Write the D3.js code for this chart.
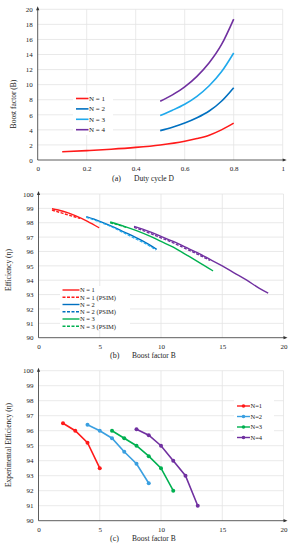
<!DOCTYPE html>
<html><head><meta charset="utf-8">
<script src="https://cdnjs.cloudflare.com/ajax/libs/d3/7.8.5/d3.min.js"></script>
<style>body{margin:0;background:#fff}svg{display:block}text{font-family:"Liberation Serif","Times New Roman",serif;fill:#222}</style>
</head><body>
<script>
// ---------- DATA ----------
// (a) Boost factor vs duty cycle
const aN1D = [0.1, 0.2, 0.3, 0.4, 0.5, 0.6, 0.65, 0.7, 0.75, 0.8];
const aN1B = [1.1, 1.25, 1.43, 1.67, 2.0, 2.5, 2.85, 3.3, 4.0, 4.9];
const aND = [0.5, 0.55, 0.6, 0.65, 0.7, 0.75, 0.8];
const aN2B = [3.9, 4.35, 4.9, 5.6, 6.5, 7.8, 9.6];
const aN3B = [5.9, 6.6, 7.4, 8.45, 9.85, 11.7, 14.2];
const aN4B = [7.8, 8.65, 9.7, 11.1, 12.9, 15.3, 18.7];
const aTicksX = [0, 0.2, 0.4, 0.6, 0.8, 1];
const aTicksY = [0, 2, 4, 6, 8, 10, 12, 14, 16, 18, 20];

// (b) Efficiency vs boost factor
const bN1B = [1.1, 2, 3, 4, 4.95];
const bN1E = [98.97, 98.8, 98.5, 98.1, 97.65];
const bN1pB = [1.1, 2, 3, 3.4];
const bN1pE = [98.88, 98.65, 98.4, 98.3];
const bN2B = [3.9, 5, 6, 7, 8, 9, 9.65];
const bN2E = [98.42, 98.1, 97.75, 97.35, 96.95, 96.5, 96.15];
const bN2pB = [3.9, 5, 6, 7, 8, 9, 9.6];
const bN2pE = [98.38, 98.05, 97.7, 97.28, 96.85, 96.42, 96.1];
const bN3B = [5.85, 7, 8, 9, 10, 11, 12, 13, 14.25];
const bN3E = [98.05, 97.75, 97.45, 97.1, 96.7, 96.3, 95.8, 95.3, 94.65];
const bN3pB = [5.85, 6.5, 7.2];
const bN3pE = [98.0, 97.85, 97.67];
const bN4B = [7.8, 9, 10, 11, 12, 13, 14, 15, 16, 17, 18, 18.75];
const bN4E = [97.75, 97.4, 97.05, 96.7, 96.3, 95.9, 95.45, 95.0, 94.5, 94.0, 93.45, 93.1];
const bN4pB = [7.8, 9, 10, 11, 12, 13, 14];
const bN4pE = [97.68, 97.3, 96.95, 96.6, 96.2, 95.8, 95.38];
const bTicksX = [0, 5, 10, 15, 20];
const bTicksY = [90, 91, 92, 93, 94, 95, 96, 97, 98, 99, 100];

// (c) Experimental efficiency
const cN1B = [2, 3, 4, 5];
const cN1E = [96.5, 96.0, 95.2, 93.5];
const cN2B = [4, 5, 6, 7, 8, 9];
const cN2E = [96.4, 96.0, 95.5, 94.6, 93.8, 92.5];
const cN3B = [6, 7, 8, 9, 10, 11];
const cN3E = [96.0, 95.5, 95.0, 94.3, 93.5, 92.0];
const cN4B = [8, 9, 10, 11, 12, 13];
const cN4E = [96.1, 95.7, 95.0, 94.0, 93.0, 91.0];

const RED = "#ff1a1a", BLUE = "#0070c0", LBLUE = "#1fa9ec", PURPLE = "#7030a0", GREEN = "#00b050", CBLUE = "#3a9fe0";

// ---------- DRAW ----------
const svg = d3.select("body").append("svg").attr("width", 296).attr("height", 550);
const zip = (xs, ys) => xs.map((x, i) => [x, ys[i]]);

function panel(o) {
  const g = svg.append("g");
  const x = d3.scaleLinear().domain(o.xd).range(o.xr);
  const y = d3.scaleLinear().domain(o.yd).range(o.yr);
  // grid
  g.selectAll(".gx").data(o.tx.slice(1)).join("line")
    .attr("x1", d => x(d)).attr("x2", d => x(d)).attr("y1", o.yr[0]).attr("y2", o.yr[1])
    .attr("stroke", "#e3e3e3").attr("stroke-width", 0.8);
  g.selectAll(".gy").data(o.ty.slice(1)).join("line")
    .attr("y1", d => y(d)).attr("y2", d => y(d)).attr("x1", o.xr[0]).attr("x2", o.xr[1])
    .attr("stroke", "#e3e3e3").attr("stroke-width", 0.8);
  // axes
  const xa = d3.axisBottom(x).tickValues(o.tx).tickSize(0).tickPadding(6).tickFormat(o.fx || (d => d));
  const ya = d3.axisLeft(y).tickValues(o.ty).tickSize(0).tickPadding(5).tickFormat(d => d);
  const gx = g.append("g").attr("transform", `translate(0,${o.yr[0]})`).call(xa);
  const gy = g.append("g").attr("transform", `translate(${o.xr[0]},0)`).call(ya);
  [gx, gy].forEach(a => { a.select(".domain").remove(); a.selectAll("text").style("font-size", "7px").attr("fill", "#222").style("font-family", "Liberation Serif"); });
  // axis lines with arrows
  g.append("line").attr("x1", o.xr[0]).attr("x2", o.xr[1] + 2).attr("y1", o.yr[0]).attr("y2", o.yr[0]).attr("stroke", "#333").attr("stroke-width", 0.8);
  g.append("line").attr("x1", o.xr[0]).attr("x2", o.xr[0]).attr("y1", o.yr[0]).attr("y2", o.yr[1] - 1).attr("stroke", "#333").attr("stroke-width", 0.8);
  g.append("path").attr("d", `M${o.xr[1] + 4},${o.yr[0]} l-4,-1.6 l0,3.2 z`).attr("fill", "#333");
  g.append("path").attr("d", `M${o.xr[0]},${o.yr[1] - 3} l-1.6,4 l3.2,0 z`).attr("fill", "#333");
  // titles
  g.append("text").attr("x", o.capX).attr("y", o.capY).style("font-size", "8px").text(o.cap);
  g.append("text").attr("x", o.capX + 22).attr("y", o.capY).style("font-size", "7.5px").text(o.xt);
  g.append("text").attr("transform", `translate(${o.ytx},${o.yty}) rotate(-90)`).attr("text-anchor", "middle").style("font-size", "7.5px").text(o.yt);
  return { g, x, y };
}

function curve(p, pts, color, w, dash) {
  const line = d3.line().x(d => p.x(d[0])).y(d => p.y(d[1])).curve(d3.curveMonotoneX);
  p.g.append("path").attr("d", line(pts)).attr("fill", "none").attr("stroke", color)
    .attr("stroke-width", w).attr("stroke-dasharray", dash || null);
}

// Panel (a)
const pa = panel({ xd: [0, 1], xr: [37.7, 282.7], yd: [0, 20], yr: [160, 9.3], tx: aTicksX, ty: aTicksY,
  fx: d => d === 0 ? "0" : (d === 1 ? "1" : d), cap: "(a)", capX: 112, capY: 181, xt: "Duty cycle D",
  yt: "Boost factor (B)", ytx: 16, yty: 104 });
curve(pa, zip(aN1D, aN1B), RED, 1.6);
curve(pa, zip(aND, aN2B), BLUE, 1.6);
curve(pa, zip(aND, aN3B), LBLUE, 1.6);
curve(pa, zip(aND, aN4B), PURPLE, 1.6);
const legA = [["N = 1", RED], ["N = 2", BLUE], ["N = 3", LBLUE], ["N = 4", PURPLE]];
pa.g.append("rect").attr("x", 73).attr("y", 93).attr("width", 40).attr("height", 42).attr("fill", "#fff");
legA.forEach((l, i) => {
  const yy = 98.5 + i * 10.4;
  pa.g.append("line").attr("x1", 76).attr("x2", 88.5).attr("y1", yy).attr("y2", yy).attr("stroke", l[1]).attr("stroke-width", 1.6);
  pa.g.append("text").attr("x", 89).attr("y", yy + 2.4).style("font-size", "7px").text(l[0]);
});

// Panel (b)
const pb = panel({ xd: [0, 20], xr: [38.5, 283.5], yd: [90, 100], yr: [337.7, 194], tx: bTicksX, ty: bTicksY,
  cap: "(b)", capX: 110, capY: 358, xt: "Boost factor B", yt: "Efficiency (η)", ytx: 11, yty: 270 });
curve(pb, zip(bN4B, bN4E), PURPLE, 1.4);
curve(pb, zip(bN4pB, bN4pE), PURPLE, 1.4, "3,1.5");
curve(pb, zip(bN3B, bN3E), GREEN, 1.4);
curve(pb, zip(bN3pB, bN3pE), GREEN, 1.4, "3,1.5");
curve(pb, zip(bN2B, bN2E), BLUE, 1.4);
curve(pb, zip(bN2pB, bN2pE), LBLUE, 1.2, "3,1.5");
curve(pb, zip(bN1B, bN1E), RED, 1.4);
curve(pb, zip(bN1pB, bN1pE), RED, 1.4, "3,1.5");
const legB = [["N = 1", RED, null], ["N = 1 (PSIM)", RED, "3,1.5"], ["N = 2", BLUE, null], ["N = 2 (PSIM)", BLUE, "3,1.5"], ["N = 3", GREEN, null], ["N = 3 (PSIM)", GREEN, "3,1.5"]];
pb.g.append("rect").attr("x", 60).attr("y", 286).attr("width", 70).attr("height", 44).attr("fill", "#fff");
legB.forEach((l, i) => {
  const yy = 290 + i * 7.25;
  pb.g.append("line").attr("x1", 62.5).attr("x2", 79.5).attr("y1", yy).attr("y2", yy).attr("stroke", l[1]).attr("stroke-width", 1.4).attr("stroke-dasharray", l[2]);
  pb.g.append("text").attr("x", 80).attr("y", yy + 2.3).style("font-size", "6.5px").text(l[0]);
});

// Panel (c)
const pc = panel({ xd: [0, 20], xr: [38.5, 283.5], yd: [90, 100], yr: [520.7, 370.7], tx: bTicksX, ty: bTicksY,
  cap: "(c)", capX: 110, capY: 541, xt: "Boost factor B", yt: "Experimental Efficiency (η)", ytx: 11, yty: 445 });
const cSeries = [[cN1B, cN1E, RED, "N=1"], [cN2B, cN2E, CBLUE, "N=2"], [cN3B, cN3E, GREEN, "N=3"], [cN4B, cN4E, PURPLE, "N=4"]];
cSeries.forEach(s => {
  const pts = zip(s[0], s[1]);
  const line = d3.line().x(d => pc.x(d[0])).y(d => pc.y(d[1]));
  pc.g.append("path").attr("d", line(pts)).attr("fill", "none").attr("stroke", s[2]).attr("stroke-width", 1.6);
  pc.g.selectAll(null).data(pts).join("circle").attr("cx", d => pc.x(d[0])).attr("cy", d => pc.y(d[1])).attr("r", 2).attr("fill", s[2]);
});
pc.g.append("rect").attr("x", 234).attr("y", 400).attr("width", 40).attr("height", 43).attr("fill", "#fff");
cSeries.forEach((s, i) => {
  const yy = 406 + i * 10.5;
  pc.g.append("line").attr("x1", 237).attr("x2", 250).attr("y1", yy).attr("y2", yy).attr("stroke", s[2]).attr("stroke-width", 1.4);
  pc.g.append("circle").attr("cx", 243.5).attr("cy", yy).attr("r", 1.8).attr("fill", s[2]);
  pc.g.append("text").attr("x", 250.5).attr("y", yy + 2.4).style("font-size", "6.5px").text(s[3]);
});
</script>
</body></html>
